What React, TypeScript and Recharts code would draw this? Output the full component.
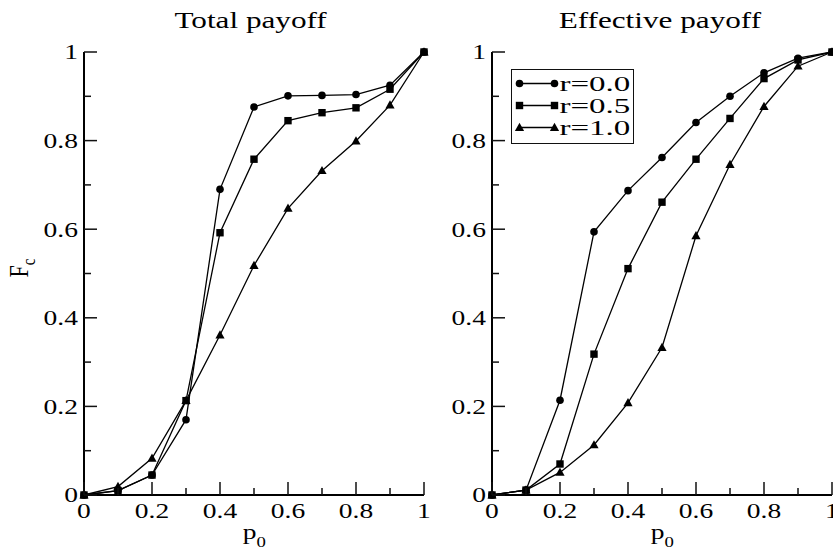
import React from 'react';
import { LineChart, Line, XAxis, YAxis, Legend } from 'recharts';

// values
const p0 = [0, 0.1, 0.2, 0.3, 0.4, 0.5, 0.6, 0.7, 0.8, 0.9, 1];

const totalR00 = [0, 0.01, 0.045, 0.17, 0.69, 0.876, 0.901, 0.902, 0.904, 0.925, 1];
const totalR05 = [0, 0.01, 0.045, 0.213, 0.592, 0.758, 0.845, 0.863, 0.874, 0.916, 1];
const totalR10 = [0, 0.019, 0.083, 0.213, 0.361, 0.518, 0.647, 0.732, 0.799, 0.88, 1];

const effR00 = [0, 0.011, 0.214, 0.594, 0.687, 0.762, 0.841, 0.9, 0.953, 0.986, 1];
const effR05 = [0, 0.011, 0.07, 0.318, 0.511, 0.661, 0.758, 0.85, 0.94, 0.982, 1];
const effR10 = [0, 0.011, 0.051, 0.113, 0.208, 0.333, 0.585, 0.746, 0.877, 0.968, 1];

const allTicks = [0, 0.1, 0.2, 0.3, 0.4, 0.5, 0.6, 0.7, 0.8, 0.9, 1];
const seriesKeys = ['r00', 'r05', 'r10'];
const seriesNames = ['r=0.0', 'r=0.5', 'r=1.0'];
const markerKinds = ['circle', 'square', 'triangle'];

const FONT = '"Liberation Serif", "Times New Roman", serif';
const MAJOR = 13;
const MINOR = 7;

const toRows = (a: number[], b: number[], c: number[]) =>
  p0.map((p, i) => ({ p, r00: a[i], r05: b[i], r10: c[i] }));

const totalData = toRows(totalR00, totalR05, totalR10);
const effData = toRows(effR00, effR05, effR10);

const isMajor = (v: number) => Math.round(v * 10) % 2 === 0;
const fmt = (v: number) => (v === 0 || v === 1 ? String(v) : v.toFixed(1));
const stretch = (x: number, s: number) => `translate(${x},0) scale(${s},1) translate(${-x},0)`;

const Marker = ({ kind, cx, cy }: { kind: string; cx: number; cy: number }) => {
  if (kind === 'circle') return <circle cx={cx} cy={cy} r={3.8} fill="#000" />;
  if (kind === 'square') return <rect x={cx - 3.7} y={cy - 3.7} width={7.4} height={7.4} fill="#000" />;
  return <polygon points={`${cx},${cy - 4.8} ${cx + 4.6},${cy + 3.4} ${cx - 4.6},${cy + 3.4}`} fill="#000" />;
};

// inward ticks (major/minor) on every side, labels only on bottom and left
const makeTick = (side: string, withLabel: boolean) => (props: any) => {
  const { x, y, payload } = props;
  const v = payload.value;
  const len = isMajor(v) ? MAJOR : MINOR;
  let line = { x1: x, y1: y, x2: x, y2: y - len };
  if (side === 'top') line = { x1: x, y1: y, x2: x, y2: y + len };
  if (side === 'left') line = { x1: x, y1: y, x2: x + len, y2: y };
  if (side === 'right') line = { x1: x, y1: y, x2: x - len, y2: y };
  let text = null;
  if (withLabel && isMajor(v)) {
    if (side === 'bottom') {
      text = (
        <text x={x} y={y + 7} dy="0.71em" textAnchor="middle" fontFamily={FONT} fontSize={22} fill="#000"
          transform={stretch(x, 1.25)}>{fmt(v)}</text>
      );
    } else {
      text = (
        <text x={x - 6} y={y} dy="0.34em" textAnchor="end" fontFamily={FONT} fontSize={22} fill="#000"
          transform={stretch(x - 6, 1.25)}>{fmt(v)}</text>
      );
    }
  }
  return (
    <g>
      <line {...line} stroke="#111" strokeWidth={1.5} />
      {text}
    </g>
  );
};

const frameLine = { stroke: '#000', strokeWidth: 2 };

const Panel = ({ data, width, margin, yWidth, children }: any) => (
  <LineChart width={width} height={549} data={data} margin={margin}>
    <XAxis xAxisId="x" dataKey="p" type="number" domain={[0, 1]} ticks={allTicks} interval={0}
      tickSize={0} tickMargin={0} height={30} axisLine={frameLine} tickLine={false} tick={makeTick('bottom', true)} />
    <XAxis xAxisId="xt" orientation="top" mirror type="number" domain={[0, 1]} ticks={allTicks} interval={0}
      tickSize={0} tickMargin={0} height={0} axisLine={frameLine} tickLine={false} tick={makeTick('top', false)} />
    <YAxis yAxisId="y" type="number" domain={[0, 1]} ticks={allTicks} interval={0}
      tickSize={0} tickMargin={0} width={yWidth} axisLine={frameLine} tickLine={false} tick={makeTick('left', true)} />
    <YAxis yAxisId="yr" orientation="right" mirror type="number" domain={[0, 1]} ticks={allTicks} interval={0}
      tickSize={0} tickMargin={0} width={0} axisLine={frameLine} tickLine={false} tick={makeTick('right', false)} />
    {seriesKeys.map((k, i) => (
      <Line key={k} xAxisId="x" yAxisId="y" dataKey={k} name={seriesNames[i]} stroke="#000" strokeWidth={1.3}
        isAnimationActive={false}
        dot={(d: any) => <Marker key={`${k}-${d.index}`} kind={markerKinds[i]} cx={d.cx} cy={d.cy} />} />
    ))}
    {children}
  </LineChart>
);

const LegendBox = () => (
  <div style={{ width: 123, height: 75, border: '1.5px solid #111', boxSizing: 'border-box', background: '#fff' }}>
    <svg width={120} height={72} style={{ display: 'block' }}>
      {seriesNames.map((n, i) => {
        const cy = 13.5 + i * 22;
        return (
          <g key={n}>
            <line x1={7.5} y1={cy} x2={42.5} y2={cy} stroke="#000" strokeWidth={1.3} />
            <Marker kind={markerKinds[i]} cx={7.5} cy={cy} />
            <Marker kind={markerKinds[i]} cx={42.5} cy={cy} />
            <text x={47.5} y={cy} dy="0.34em" fontFamily={FONT} fontSize={22} fill="#000"
              transform={stretch(47.5, 1.5)}>{n}</text>
          </g>
        );
      })}
    </svg>
  </div>
);

const Caption = ({ cx, top, size, sx, children }: any) => (
  <div style={{ position: 'absolute', left: cx - 200, top, width: 400, textAlign: 'center', fontFamily: FONT,
    fontSize: size, lineHeight: `${size}px`, color: '#000' }}>
    <span style={{ display: 'inline-block', transform: `scaleX(${sx})` }}>{children}</span>
  </div>
);

const subStyle = { fontSize: 15, position: 'relative' as const, top: 3 };

export default function App() {
  return (
    <div style={{ position: 'absolute', left: 0, top: 0, width: 833, height: 549, overflow: 'hidden', background: '#fff' }}>
      <div style={{ position: 'absolute', left: 0, top: 0 }}>
        <Panel data={totalData} width={440} yWidth={60} margin={{ top: 52, right: 16, bottom: 24, left: 24 }} />
      </div>
      <div style={{ position: 'absolute', left: 440, top: 0 }}>
        <Panel data={effData} width={393} yWidth={40} margin={{ top: 52, right: 1, bottom: 24, left: 12 }}>
          <Legend layout="horizontal" verticalAlign="middle" align="center"
            wrapperStyle={{ left: 71, top: 69, width: 123, height: 75 }}
            content={() => <LegendBox />} />
        </Panel>
      </div>
      <Caption cx={250.5} top={8} size={24} sx={1.3}>Total payoff</Caption>
      <Caption cx={660} top={8} size={24} sx={1.3}>Effective payoff</Caption>
      <Caption cx={254} top={521} size={22} sx={1.25}>p<sub style={subStyle}>0</sub></Caption>
      <Caption cx={662} top={521} size={22} sx={1.25}>p<sub style={subStyle}>0</sub></Caption>
      <div style={{ position: 'absolute', left: -30, top: 257, width: 100, height: 22, textAlign: 'center',
        fontFamily: FONT, fontSize: 22, lineHeight: '22px', transform: 'scaleX(1.2) rotate(-90deg)' }}>
        F<sub style={{ fontSize: 15 }}>c</sub>
      </div>
    </div>
  );
}
